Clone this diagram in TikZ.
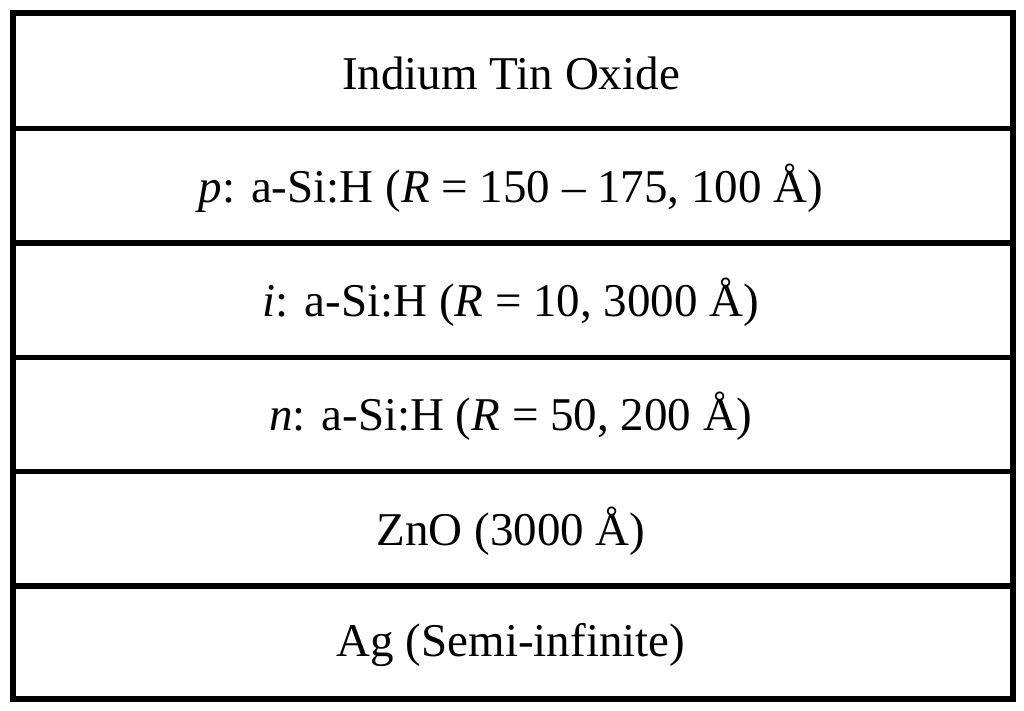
\documentclass[tikz,border=0pt]{standalone}
\usepackage{fontspec}
\setmainfont{Liberation Serif}
\tikzset{
  layer/.style={font=\fontsize{47}{56}\selectfont, anchor=center, inner sep=0pt},
  frame/.style={line width=5.5pt}
}
\begin{document}
\begin{tikzpicture}[x=1pt,y=-1pt]
\useasboundingbox (0,0) rectangle (1024,710);
\fill[white] (0,0) rectangle (1024,710);
\coordinate (tl) at (13,13);
\coordinate (br) at (1013,699);
\draw[frame] (tl) rectangle (br);
\foreach \y in {128.6,243,357.3,471.6,586}{
  \draw[frame] (13,\y) -- (1013,\y);
}
\node[layer] (ito) at (511,73) {Indium Tin Oxide};
\node[layer] (p) at (511,188) {\textit{p}: a-Si:H (\textit{R} = 150 – 175, 100 Å)};
\node[layer] (i) at (511,302) {\textit{i}: a-Si:H (\textit{R} = 10, 3000 Å)};
\node[layer] (n) at (511,416) {\textit{n}: a-Si:H (\textit{R} = 50, 200 Å)};
\node[layer] (zno) at (511,531) {ZnO (3000 Å)};
\node[layer] (ag) at (511,645) {Ag (Semi-infinite)};
\end{tikzpicture}
\end{document}
